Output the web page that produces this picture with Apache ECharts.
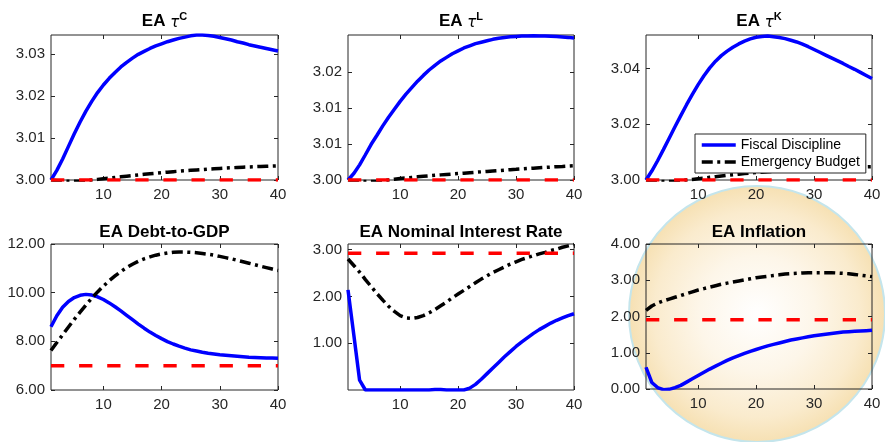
<!DOCTYPE html>
<html>
<head>
<meta charset="utf-8">
<script src="https://cdn.jsdelivr.net/npm/echarts@6.0.0/dist/echarts.min.js"></script>
<style>
    html, body { margin: 0; padding: 0; background: #fff; }
    #main { width: 885px; height: 442px; }
</style>
</head>
<body>
<div id="main"></div>
<script>
// horizon (quarters)
var periods = [1, 2, 3, 4, 5, 6, 7, 8, 9, 10, 11, 12, 13, 14, 15, 16, 17, 18, 19, 20,
    21, 22, 23, 24, 25, 26, 27, 28, 29, 30, 31, 32, 33, 34, 35, 36, 37, 38, 39, 40];
var xTicks = [10, 20, 30, 40];

// EA tau^C
var tauC_fd = [3.0000, 3.0023, 3.0050, 3.0080, 3.0110, 3.0138, 3.0164, 3.0187, 3.0208, 3.0226,
    3.0242, 3.0256, 3.0269, 3.0280, 3.0290, 3.0299, 3.0306, 3.0313, 3.0319, 3.0324,
    3.0329, 3.0333, 3.0337, 3.0340, 3.0343, 3.0345, 3.0345, 3.0344, 3.0342, 3.0339,
    3.0336, 3.0333, 3.0329, 3.0326, 3.0322, 3.0319, 3.0316, 3.0313, 3.0310, 3.0307];
var tauC_eb = [3.00000, 2.99985, 2.99975, 2.99970, 2.99970, 2.99975, 2.99985, 3.00000, 3.00015, 3.00030,
    3.00045, 3.00060, 3.00075, 3.00090, 3.00105, 3.00120, 3.00135, 3.00150, 3.00162, 3.00175,
    3.00187, 3.00199, 3.00210, 3.00220, 3.00230, 3.00240, 3.00250, 3.00260, 3.00268, 3.00276,
    3.00284, 3.00291, 3.00298, 3.00305, 3.00311, 3.00317, 3.00322, 3.00327, 3.00332, 3.00336];
var tauC_ss = 3.000;
var tauC_ticks = [3.00, 3.01, 3.02, 3.03];

// EA tau^L
var tauL_fd = [3.00000, 3.00090, 3.00210, 3.00350, 3.00495, 3.00620, 3.00750, 3.00870, 3.00980, 3.01090,
    3.01190, 3.01280, 3.01370, 3.01450, 3.01525, 3.01590, 3.01650, 3.01700, 3.01750, 3.01790,
    3.01830, 3.01860, 3.01890, 3.01910, 3.01930, 3.01950, 3.01965, 3.01975, 3.01985, 3.01990,
    3.01995, 3.01997, 3.01998, 3.01997, 3.01995, 3.01992, 3.01988, 3.01983, 3.01977, 3.01970];
var tauL_eb = [3.00000, 2.99990, 2.99982, 2.99978, 2.99978, 2.99982, 2.99990, 3.00000, 3.00010, 3.00020,
    3.00028, 3.00036, 3.00044, 3.00051, 3.00058, 3.00065, 3.00071, 3.00077, 3.00083, 3.00089,
    3.00095, 3.00101, 3.00107, 3.00113, 3.00119, 3.00125, 3.00131, 3.00137, 3.00143, 3.00148,
    3.00154, 3.00159, 3.00164, 3.00169, 3.00174, 3.00179, 3.00184, 3.00188, 3.00193, 3.00197];
var tauL_ss = 3.000;
var tauL_ticks = [3.000, 3.005, 3.010, 3.015];

// EA tau^K
var tauK_fd = [3.0000, 3.0032, 3.0069, 3.0109, 3.0150, 3.0191, 3.0231, 3.0270, 3.0307, 3.0342,
    3.0374, 3.0402, 3.0426, 3.0446, 3.0462, 3.0476, 3.0488, 3.0498, 3.0506, 3.0512,
    3.0515, 3.0516, 3.0514, 3.0511, 3.0507, 3.0501, 3.0495, 3.0487, 3.0478, 3.0468,
    3.0458, 3.0448, 3.0438, 3.0428, 3.0418, 3.0407, 3.0397, 3.0386, 3.0375, 3.0364];
var tauK_eb = [3.00000, 2.99975, 2.99955, 2.99945, 2.99945, 2.99955, 2.99975, 3.00000, 3.00020, 3.00045,
    3.00070, 3.00095, 3.00120, 3.00145, 3.00170, 3.00190, 3.00210, 3.00230, 3.00250, 3.00265,
    3.00280, 3.00295, 3.00310, 3.00322, 3.00334, 3.00346, 3.00357, 3.00368, 3.00379, 3.00389,
    3.00399, 3.00408, 3.00417, 3.00426, 3.00435, 3.00444, 3.00453, 3.00461, 3.00469, 3.00477];
var tauK_ss = 3.000;
var tauK_ticks = [3.00, 3.02, 3.04];

// EA Debt-to-GDP
var debt_fd = [8.60, 9.05, 9.40, 9.64, 9.80, 9.89, 9.93, 9.90, 9.83, 9.72,
    9.58, 9.42, 9.25, 9.07, 8.89, 8.71, 8.54, 8.38, 8.24, 8.11,
    7.99, 7.89, 7.80, 7.72, 7.65, 7.60, 7.55, 7.51, 7.48, 7.45,
    7.43, 7.41, 7.39, 7.37, 7.35, 7.34, 7.33, 7.32, 7.31, 7.30];
var debt_eb = [7.62, 7.95, 8.27, 8.59, 8.90, 9.20, 9.49, 9.77, 10.03, 10.27,
    10.49, 10.69, 10.87, 11.03, 11.17, 11.29, 11.39, 11.47, 11.54, 11.59,
    11.63, 11.66, 11.67, 11.67, 11.66, 11.64, 11.61, 11.58, 11.54, 11.49,
    11.44, 11.39, 11.33, 11.27, 11.21, 11.15, 11.09, 11.03, 10.97, 10.91];
var debt_ss = 7.00;
var debt_ticks = [6, 8, 10, 12];

// EA Nominal Interest Rate
var rate_fd = [2.14, 1.18, 0.21, 0.00, 0.00, 0.00, 0.00, 0.00, 0.00, 0.00,
    0.00, 0.00, 0.00, 0.00, 0.00, 0.01, 0.01, 0.00, 0.00, 0.00,
    0.00, 0.04, 0.12, 0.23, 0.35, 0.47, 0.59, 0.71, 0.82, 0.93,
    1.03, 1.12, 1.21, 1.29, 1.36, 1.43, 1.49, 1.54, 1.59, 1.63];
var rate_eb = [2.80, 2.66, 2.52, 2.36, 2.21, 2.06, 1.92, 1.79, 1.68, 1.59,
    1.54, 1.53, 1.55, 1.59, 1.65, 1.72, 1.80, 1.88, 1.97, 2.05,
    2.13, 2.21, 2.29, 2.37, 2.44, 2.51, 2.57, 2.63, 2.69, 2.74,
    2.79, 2.83, 2.87, 2.91, 2.94, 2.98, 3.01, 3.05, 3.08, 3.11];
var rate_ss = 2.92;
var rate_ticks = [1, 2, 3];

// EA Inflation
var infl_fd = [0.60, 0.18, 0.04, -0.02, -0.01, 0.04, 0.10, 0.19, 0.28, 0.37,
    0.46, 0.55, 0.63, 0.71, 0.79, 0.86, 0.92, 0.98, 1.04, 1.09,
    1.14, 1.19, 1.23, 1.27, 1.31, 1.35, 1.38, 1.41, 1.44, 1.47,
    1.49, 1.51, 1.53, 1.55, 1.57, 1.58, 1.59, 1.60, 1.61, 1.62];
var infl_eb = [2.17, 2.29, 2.37, 2.43, 2.48, 2.53, 2.58, 2.63, 2.68, 2.73,
    2.77, 2.81, 2.85, 2.89, 2.92, 2.95, 2.98, 3.01, 3.04, 3.07,
    3.09, 3.11, 3.13, 3.15, 3.17, 3.18, 3.19, 3.20, 3.21, 3.21,
    3.21, 3.21, 3.21, 3.20, 3.19, 3.18, 3.16, 3.14, 3.12, 3.10];
var infl_ss = 1.91;
var infl_ticks = [0, 1, 2, 3, 4];

var FONT = '"Liberation Sans", Arial, Helvetica, sans-serif';
var AXIS = '#262626';

var panels = [
    {title: '{b|EA }{t|τ}{s|C}', box: [51, 35, 227, 145], titleTop: 11, min: 3.0, max: 3.0345, ticks: tauC_ticks, fd: tauC_fd, eb: tauC_eb, ss: tauC_ss},
    {title: '{b|EA }{t|τ}{s|L}', box: [348, 35, 226, 145], titleTop: 11, min: 3.0, max: 3.0201, ticks: tauL_ticks, fd: tauL_fd, eb: tauL_eb, ss: tauL_ss},
    {title: '{b|EA }{t|τ}{s|K}', box: [646, 35, 226, 145], titleTop: 11, min: 3.0, max: 3.052, ticks: tauK_ticks, fd: tauK_fd, eb: tauK_eb, ss: tauK_ss},
    {title: '{b|EA Debt-to-GDP}', box: [51, 244, 227, 146], titleTop: 222, min: 6, max: 12, ticks: debt_ticks, fd: debt_fd, eb: debt_eb, ss: debt_ss},
    {title: '{b|EA Nominal Interest Rate}', box: [348, 244, 226, 146], titleTop: 222, min: 0, max: 3.12, ticks: rate_ticks, fd: rate_fd, eb: rate_eb, ss: rate_ss},
    {title: '{b|EA Inflation}', box: [646, 244, 226, 145], titleTop: 222, min: 0, max: 4, ticks: infl_ticks, fd: infl_fd, eb: infl_eb, ss: infl_ss}
];

function pairs(ys) {
    return periods.map(function (p, k) { return [p, ys[k]]; });
}

var titleRich = {
    b: {fontFamily: FONT, fontWeight: 'bold', fontSize: 17, color: '#000', lineHeight: 20},
    t: {fontFamily: '"DejaVu Sans", sans-serif', fontStyle: 'italic', fontWeight: 'normal', fontSize: 15, color: '#000', lineHeight: 17, verticalAlign: 'bottom'},
    s: {fontFamily: FONT, fontWeight: 'bold', fontSize: 11, color: '#000', lineHeight: 5, verticalAlign: 'top'}
};

var grids = [], xAxes = [], yAxes = [], series = [], titles = [];
var tick = {inside: true, length: 4, lineStyle: {color: AXIS, width: 1}};
var label = {fontFamily: FONT, fontSize: 15, color: AXIS};

panels.forEach(function (p, i) {
    grids.push({
        left: p.box[0], top: p.box[1], width: p.box[2], height: p.box[3],
        show: true, borderColor: AXIS, borderWidth: 1, backgroundColor: 'transparent',
        containLabel: false, outerBoundsMode: 'none'
    });
    titles.push({
        text: p.title, left: p.box[0] + p.box[2] / 2, top: p.titleTop, textAlign: 'center', padding: 0,
        textStyle: {rich: titleRich}
    });
    // bottom / top x axes (top one only mirrors the ticks)
    xAxes.push({
        gridIndex: i, type: 'value', min: 1, max: 40, position: 'bottom',
        axisLine: {show: false, onZero: false}, splitLine: {show: false},
        axisTick: Object.assign({customValues: xTicks}, tick),
        axisLabel: Object.assign({customValues: xTicks, margin: 7}, label)
    });
    xAxes.push({
        gridIndex: i, type: 'value', min: 1, max: 40, position: 'top',
        axisLine: {show: false, onZero: false}, splitLine: {show: false},
        axisTick: Object.assign({customValues: xTicks}, tick),
        axisLabel: {show: false}
    });
    yAxes.push({
        gridIndex: i, type: 'value', min: p.min, max: p.max, position: 'left',
        axisLine: {show: false, onZero: false}, splitLine: {show: false},
        axisTick: Object.assign({customValues: p.ticks}, tick),
        axisLabel: Object.assign({
            customValues: p.ticks, margin: 6,
            formatter: function (v) { return (v + 1e-9).toFixed(2); }
        }, label)
    });
    yAxes.push({
        gridIndex: i, type: 'value', min: p.min, max: p.max, position: 'right',
        axisLine: {show: false, onZero: false}, splitLine: {show: false},
        axisTick: Object.assign({customValues: p.ticks}, tick),
        axisLabel: {show: false}
    });

    series.push({
        name: 'Fiscal Discipline', type: 'line', xAxisIndex: 2 * i, yAxisIndex: 2 * i,
        data: pairs(p.fd), symbol: 'none', z: 2,
        lineStyle: {color: '#0000ff', width: 3.5}, itemStyle: {color: '#0000ff'}
    });
    series.push({
        name: 'Emergency Budget', type: 'line', xAxisIndex: 2 * i, yAxisIndex: 2 * i,
        data: pairs(p.eb), symbol: 'none', z: 3,
        lineStyle: {color: '#000000', width: 3.5, type: [11, 4.5, 3, 4.5]}, itemStyle: {color: '#000000'}
    });
    series.push({
        name: 'Steady State', type: 'line', xAxisIndex: 2 * i, yAxisIndex: 2 * i,
        data: [[periods[0], p.ss], [periods[periods.length - 1], p.ss]], symbol: 'none', z: 4,
        lineStyle: {color: '#ff0000', width: 3.5, type: [13.3, 14.8]}, itemStyle: {color: '#ff0000'}
    });
});

var chart = echarts.init(document.getElementById('main'));
chart.setOption({
    animation: false,
    backgroundColor: '#fff',
    title: titles,
    grid: grids,
    xAxis: xAxes,
    yAxis: yAxes,
    series: series,
    legend: {
        data: ['Fiscal Discipline', 'Emergency Budget'],
        orient: 'vertical', left: 695, top: 134,
        padding: [4, 6, 4, 5], itemWidth: 34, itemHeight: 14, itemGap: 3,
        backgroundColor: '#fff', borderColor: AXIS, borderWidth: 1, borderRadius: 0,
        selectedMode: false, z: 10,
        itemStyle: {opacity: 0},
        lineStyle: {width: 3.5},
        textStyle: {fontFamily: FONT, fontSize: 14, color: '#000'}
    },
    // highlight disc behind the inflation panel
    graphic: [{
        type: 'circle', z: -10, silent: true,
        shape: {cx: 757, cy: 314, r: 128},
        style: {
            fill: new echarts.graphic.RadialGradient(0.5, 0.5, 0.5, [
                {offset: 0, color: '#ffffff'},
                {offset: 0.45, color: '#fdf6e9'},
                {offset: 0.8, color: '#faebcd'},
                {offset: 1, color: '#f6e0b2'}
            ]),
            stroke: '#c4e5ec', lineWidth: 2
        }
    }]
});
</script>
</body>
</html>
